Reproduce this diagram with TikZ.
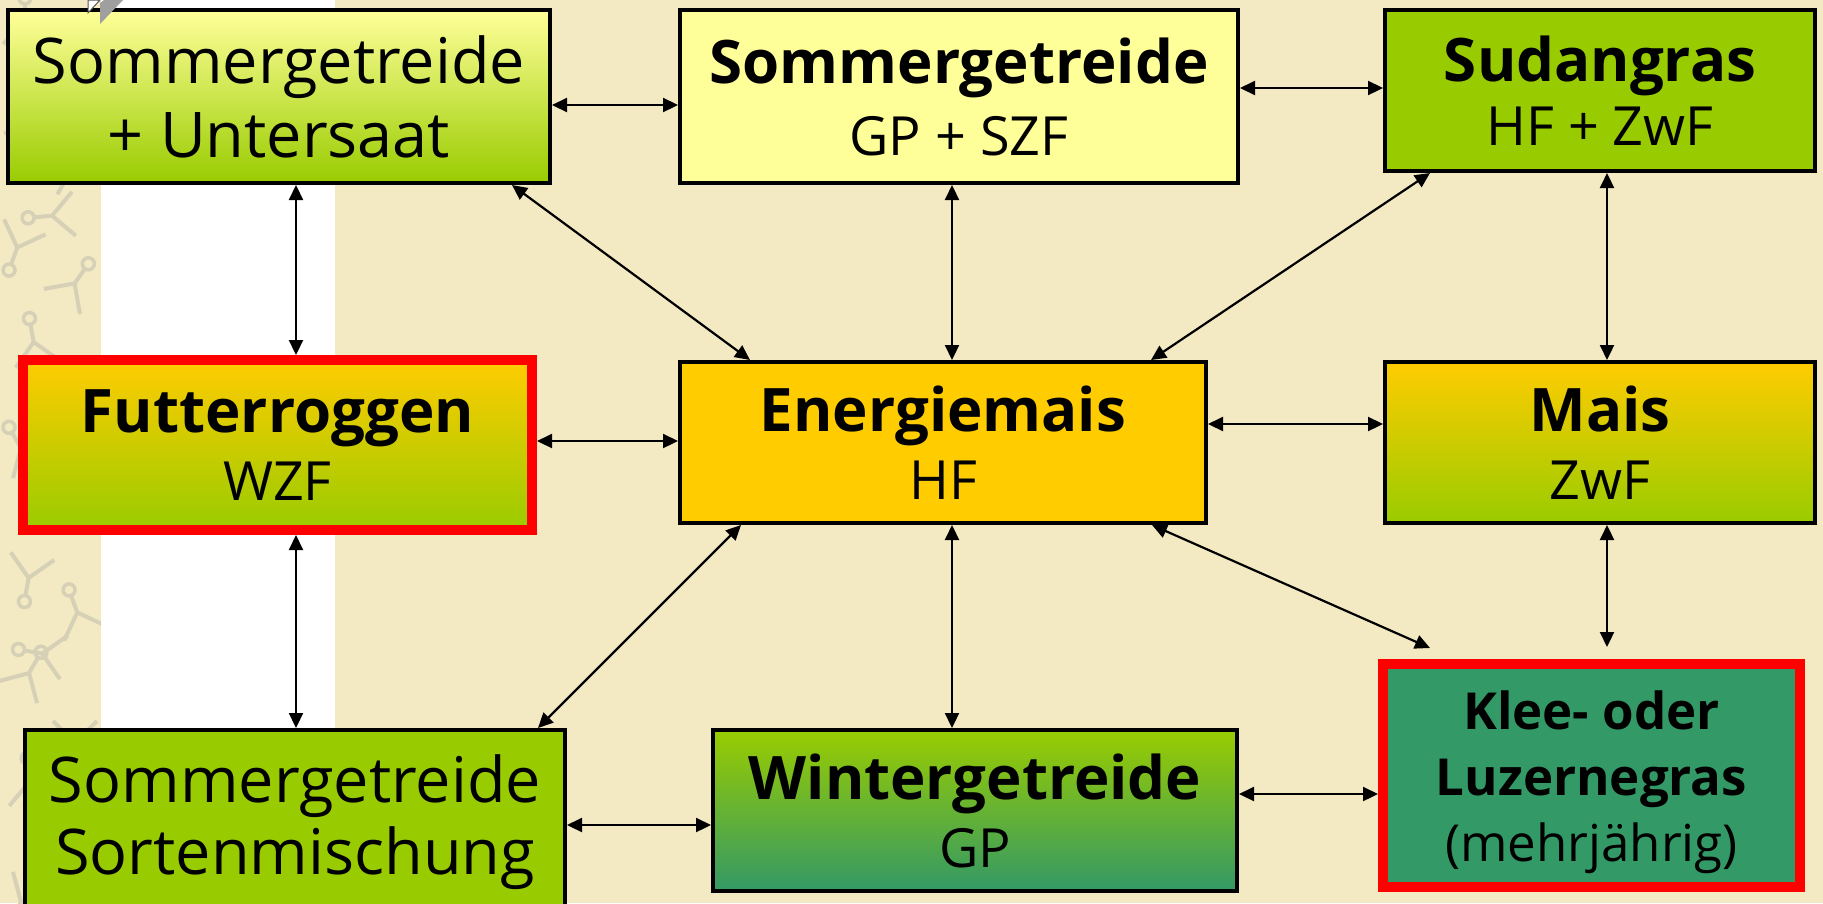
\documentclass[tikz,border=0pt]{standalone}
\usepackage{fontspec}
\setmainfont{Open Sans}
\usetikzlibrary{arrows.meta}

\definecolor{paper}{HTML}{F3EAC4}
\definecolor{lemon}{HTML}{FFFF99}
\definecolor{lime}{HTML}{99CC00}
\definecolor{gold}{HTML}{FFCC00}
\definecolor{sea}{HTML}{339966}
\definecolor{doodle}{HTML}{D6D0B6}

% text sizes
\newcommand\hdr{\fontsize{60}{68}\selectfont\bfseries}
\newcommand\sublbl{\fontsize{54}{68}\selectfont}
\newcommand\bodylbl{\fontsize{63}{74}\selectfont}
\newcommand\kleelbl{\fontsize{51}{66}\selectfont}

\begin{document}
\begin{tikzpicture}[x=1pt,y=-1pt,
  box/.style={draw=black, line width=4pt, inner sep=0pt, align=center, text=black},
  redbox/.style={draw=red, line width=10pt, inner sep=0pt, align=center, text=black},
  link/.style={{Triangle[length=15pt,width=14pt]}-{Triangle[length=15pt,width=14pt]},
               line width=2.2pt, black},
  doodlemark/.pic={
    \draw[doodle, line width=4pt] (-22,14) -- (0,-8) -- (22,14) (0,-8) -- (0,-26);
    \draw[doodle, line width=3.5pt] (0,-32) circle (6pt);
  }]

% backdrop
\useasboundingbox (0,0) rectangle (1823,903);
\fill[paper] (0,0) rectangle (1823,903);
\fill[white] (101,0) rectangle (335,903);
\begin{scope}
  \clip (0,0) rectangle (101,903);
  \foreach \px/\py/\rot in {25/30/0, 80/70/200, 30/130/-25, 75/175/15,
      20/240/160, 70/290/-35, 35/350/10, 85/400/190, 25/455/30, 70/510/-15,
      30/570/170, 80/620/20, 25/680/-30, 75/735/180, 30/790/5, 80/845/-20,
      25/895/150, 60/215/95, 55/430/-100, 50/655/80, 55/870/-95}
    \pic[rotate=\rot] at (\px,\py) {doodlemark};
\end{scope}

% crop boxes
\node[box, top color=lemon, bottom color=lime, minimum width=542pt, minimum height=173pt,
      font=\bodylbl] (sgu) at (279,96.5) {Sommergetreide\\+ Untersaat};
\node[box, fill=lemon, minimum width=558pt, minimum height=173pt,
      font=\fontsize{54}{72}\selectfont] (sgg) at (959,96.5) {{\hdr Sommergetreide}\\{\sublbl GP + SZF}};
\node[box, fill=lime, minimum width=430pt, minimum height=161pt,
      font=\fontsize{54}{64}\selectfont] (sud) at (1600,90.5) {{\hdr Sudangras}\\{\sublbl HF + ZwF}};
\node[redbox, top color=gold, bottom color=lime, minimum width=509pt, minimum height=170pt,
      font=\fontsize{54}{68}\selectfont] (fut) at (277.5,445) {{\hdr Futterroggen}\\{\sublbl WZF}};
\node[box, fill=gold, minimum width=526pt, minimum height=161pt,
      font=\fontsize{54}{68}\selectfont] (ema) at (943,442.5) {{\hdr Energiemais}\\{\sublbl HF}};
\node[box, top color=gold, bottom color=lime, minimum width=430pt, minimum height=161pt,
      font=\fontsize{54}{68}\selectfont] (mais) at (1600,442.5) {{\hdr Mais}\\{\sublbl ZwF}};
\node[box, fill=lime, minimum width=540pt, minimum height=184pt,
      font=\fontsize{63}{72}\selectfont] (sgs) at (295,822) {Sommergetreide\\Sortenmischung};
\node[box, top color=lime, bottom color=sea, minimum width=524pt, minimum height=161pt,
      font=\fontsize{54}{68}\selectfont] (wg) at (975,810.5) {{\hdr Wintergetreide}\\{\sublbl GP}};
\node[redbox, fill=sea, minimum width=417pt, minimum height=223pt,
      font=\kleelbl] (klee) at (1591.5,775.5)
      {\rule{0pt}{52pt}{\bfseries Klee-\ oder}\\{\bfseries Luzernegras}\\(mehrjährig)};

% small pointer glyph at the top edge
\filldraw[fill=white, draw=gray!70!black, line width=1pt] (88,0) -- (88,13) -- (100,0) -- cycle;
\fill[gray!75] (100,3) -- (100,24) -- (123,0) -- (104,0) -- cycle;

% rails for the connectors
\coordinate (h1) at (0,105);
\coordinate (h2) at (0,88);
\coordinate (h3) at (0,441);
\coordinate (h4) at (0,424);
\coordinate (h5) at (0,825);
\coordinate (h6) at (0,794);
\coordinate (v1) at (296,0);
\coordinate (v2) at (952,0);
\coordinate (v3) at (1607,0);
\coordinate (d1s) at (512,0);
\coordinate (d1e) at (750,0);
\coordinate (d2s) at (1430,0);
\coordinate (d2e) at (1151,0);
\coordinate (d3s) at (741,0);
\coordinate (d3e) at (538,0);
\coordinate (d4s) at (1152,0);
\coordinate (kleeNW) at (1430,648);
\coordinate (kleeN) at (1607,647);

% connectors
\draw[link] (sgu.east |- h1) -- (sgg.west |- h1);
\draw[link] (sgg.east |- h2) -- (sud.west |- h2);
\draw[link] (sgu.south -| v1) -- (fut.north -| v1);
\draw[link] (sgu.south -| d1s) -- (ema.north -| d1e);
\draw[link] (sgg.south -| v2) -- (ema.north -| v2);
\draw[link] (sud.south -| d2s) -- (ema.north -| d2e);
\draw[link] (sud.south -| v3) -- (mais.north -| v3);
\draw[link] (fut.east |- h3) -- (ema.west |- h3);
\draw[link] (ema.east |- h4) -- (mais.west |- h4);
\draw[link] (fut.south -| v1) -- (sgs.north -| v1);
\draw[link] (ema.south -| d3s) -- (sgs.north -| d3e);
\draw[link] (ema.south -| v2) -- (wg.north -| v2);
\draw[link] (ema.south -| d4s) -- (kleeNW);
\draw[link] (mais.south -| v3) -- (kleeN);
\draw[link] (sgs.east |- h5) -- (wg.west |- h5);
\draw[link] (wg.east |- h6) -- (klee.west |- h6);
\end{tikzpicture}
\end{document}
